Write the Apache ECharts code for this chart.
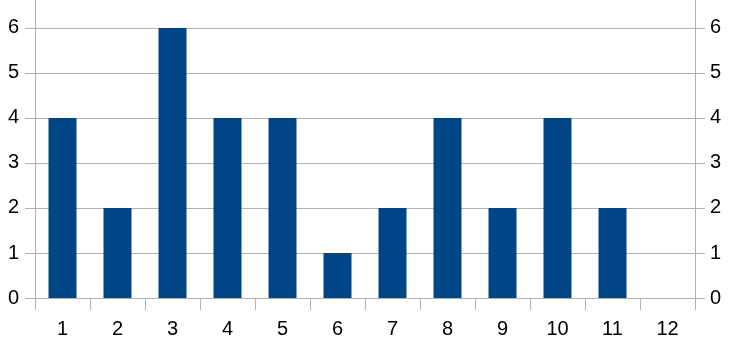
<!DOCTYPE html>
<html>
<head>
<meta charset="utf-8">
<script src="https://cdn.jsdelivr.net/npm/echarts@6/dist/echarts.min.js"></script>
<style>html,body{margin:0;padding:0;background:#fff}#c{width:730px;height:345px}</style>
</head>
<body>
<div id="c"></div>
<script>
var categories = ['1','2','3','4','5','6','7','8','9','10','11','12'];
var values = [4, 2, 6, 4, 4, 1, 2, 4, 2, 4, 2, 0];
var yMin = 0, yMax = 6.62, yInterval = 1;

var chart = echarts.init(document.getElementById('c'), null, {renderer: 'canvas'});
var gridColor = '#b3b3b3';
var font = {fontFamily: 'Liberation Sans', fontSize: 20, color: '#000'};
function yAxisCfg(pos, margin) {
  return {
    type: 'value', position: pos, min: yMin, max: yMax, interval: yInterval,
    axisLine: {show: true, lineStyle: {color: gridColor, width: 1}},
    axisTick: {show: true, length: 10, lineStyle: {color: gridColor}},
    axisLabel: Object.assign({margin: margin, showMaxLabel: false}, font),
    splitLine: {show: pos === 'left', showMaxLine: false, lineStyle: {color: gridColor, width: 1}}
  };
}
chart.setOption({
  animation: false,
  grid: {left: 35, right: 35, top: 0, bottom: 47, containLabel: false},
  xAxis: {
    type: 'category', data: categories, boundaryGap: true,
    axisLine: {show: true, lineStyle: {color: gridColor, width: 1}},
    axisTick: {show: true, length: 12, alignWithLabel: false, lineStyle: {color: gridColor}},
    axisLabel: Object.assign({margin: 21}, font)
  },
  yAxis: [yAxisCfg('left', 16), yAxisCfg('right', 15)],
  series: [{
    type: 'bar', data: values, barWidth: 28,
    itemStyle: {color: '#004586'}
  }]
});
</script>
</body>
</html>
